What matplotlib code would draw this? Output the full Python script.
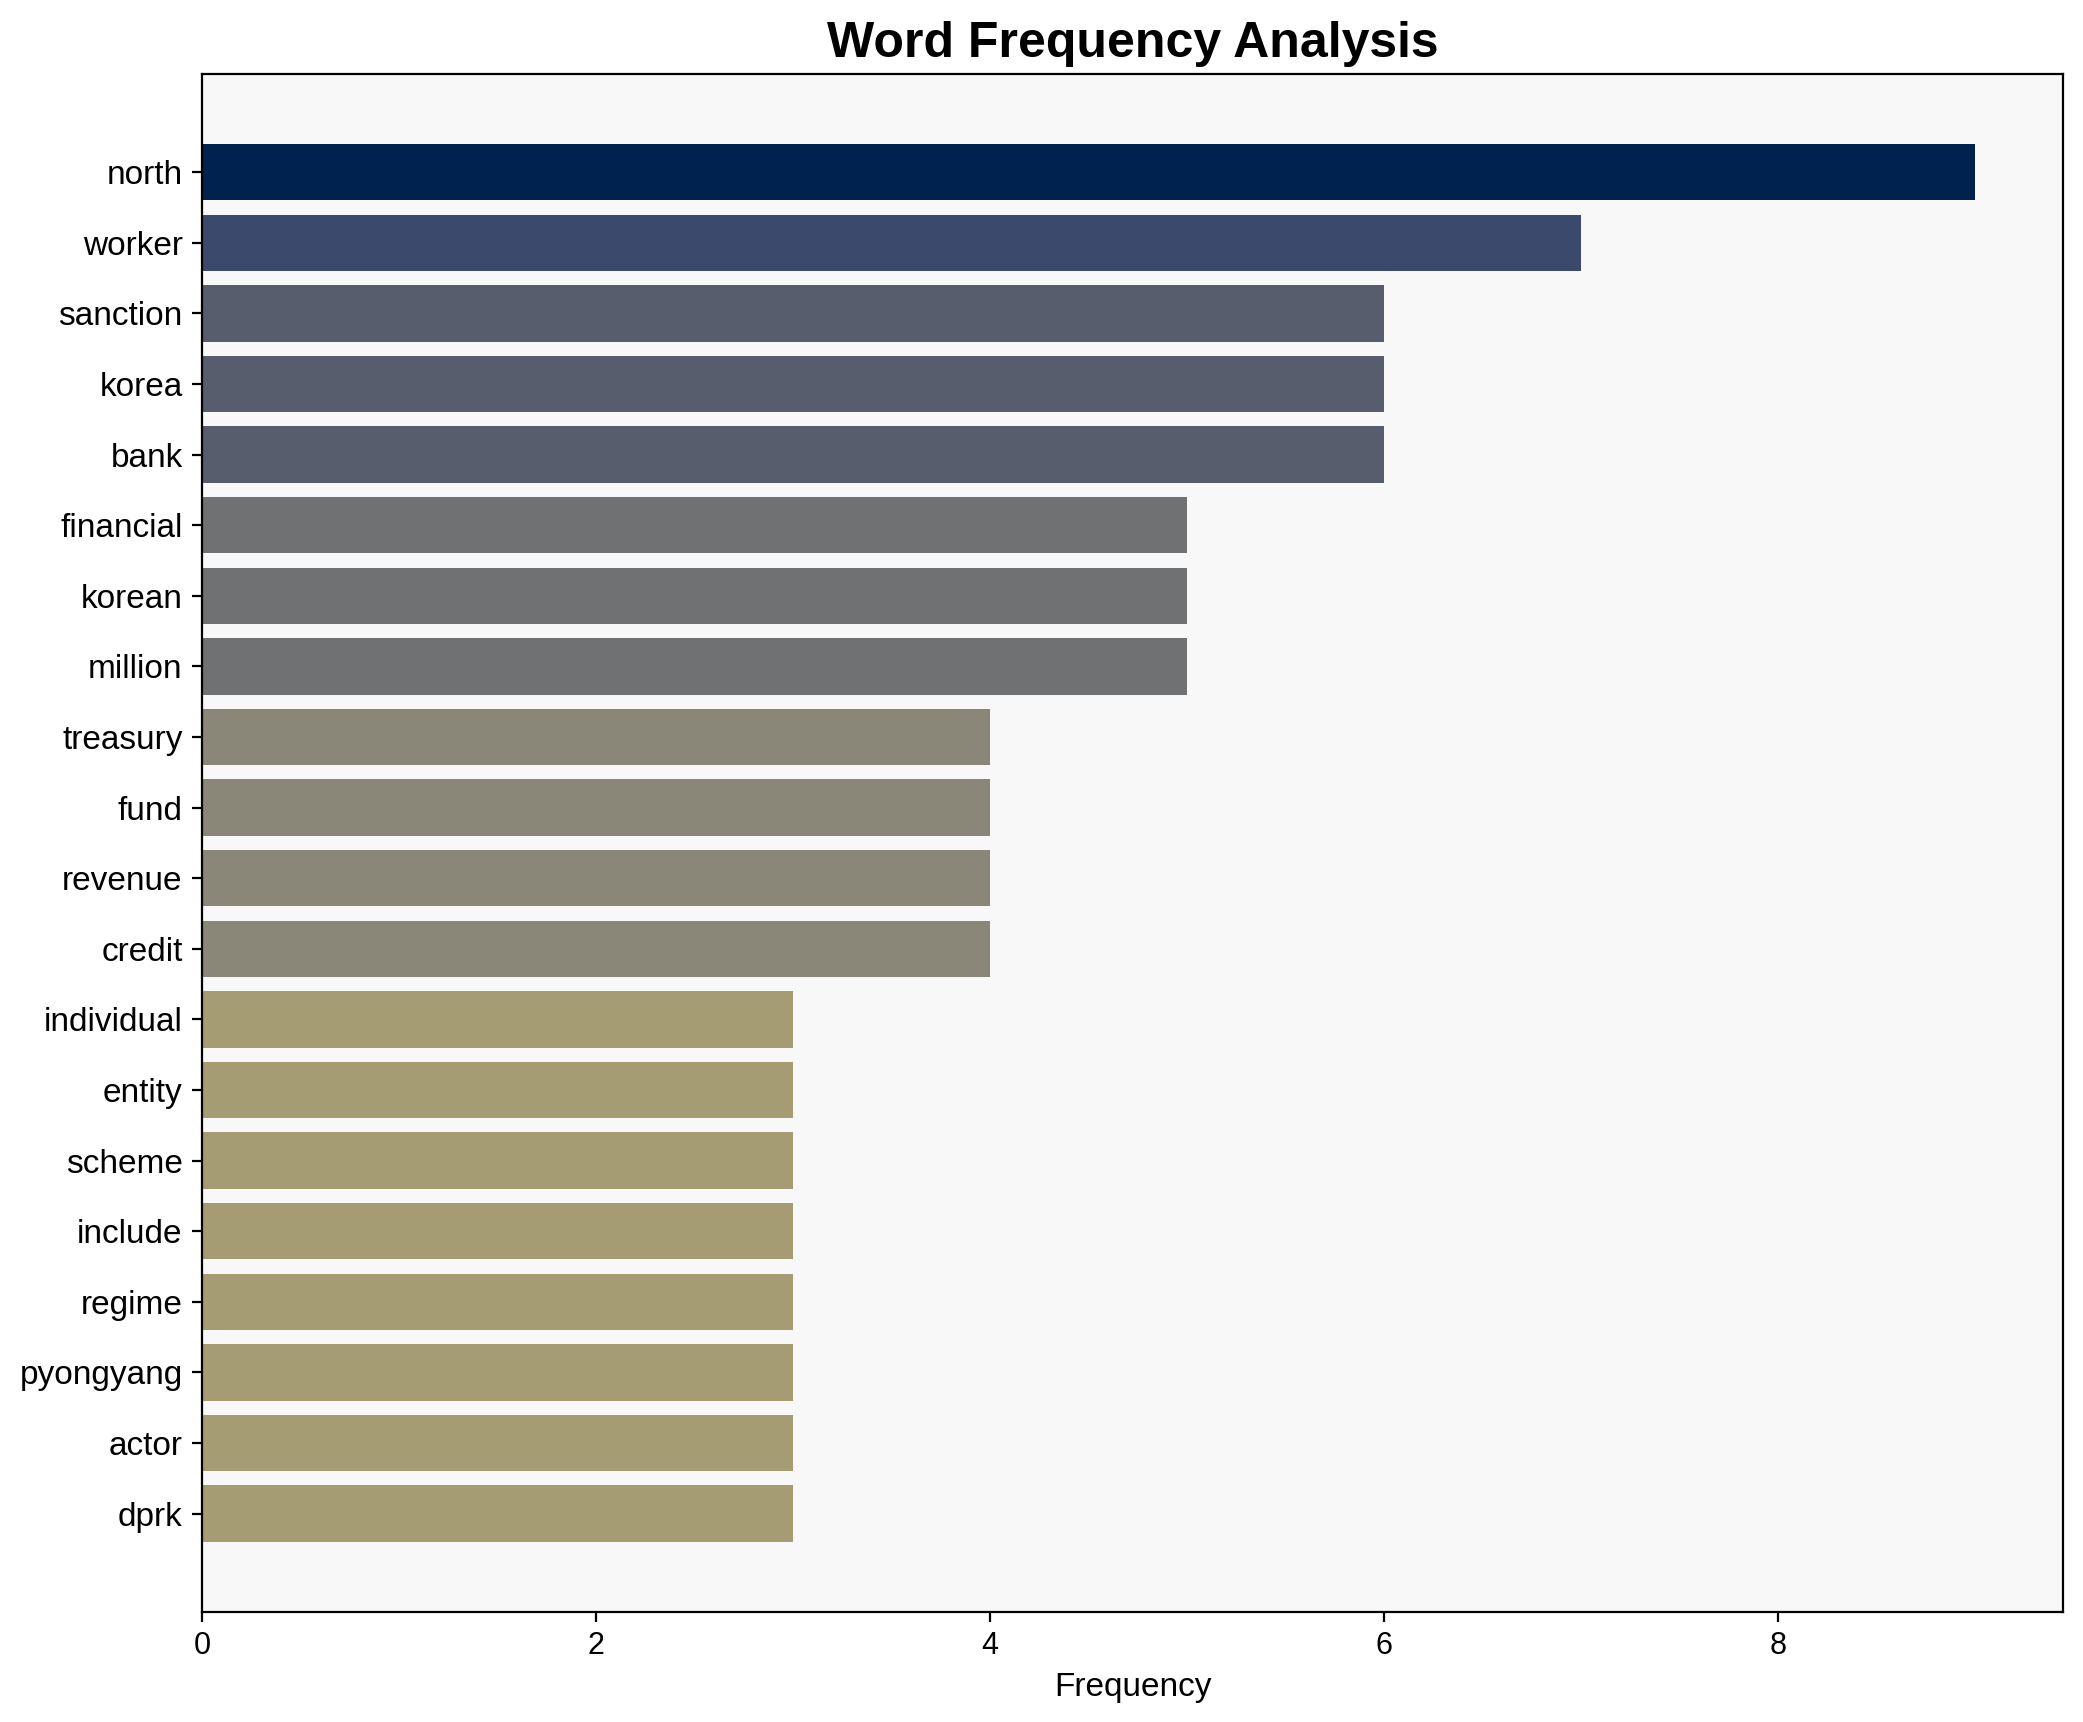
import numpy as np
import matplotlib.pyplot as plt

plt.rcParams['font.family'] = ['Liberation Sans', 'DejaVu Sans']

words = ['north', 'worker', 'sanction', 'korea', 'bank', 'financial', 'korean',
         'million', 'treasury', 'fund', 'revenue', 'credit', 'individual',
         'entity', 'scheme', 'include', 'regime', 'pyongyang', 'actor', 'dprk']
counts = [9, 7, 6, 6, 6, 5, 5, 5, 4, 4, 4, 4, 3, 3, 3, 3, 3, 3, 3, 3]

fig, ax = plt.subplots(figsize=(10.415, 8.61), dpi=200)
ax.set_facecolor('#f8f8f8')

colors = [plt.cm.cividis(1 - c / max(counts)) for c in counts]
ypos = np.arange(len(words))
ax.barh(ypos, counts, color=colors, height=0.8)
ax.set_yticks(ypos)
ax.set_yticklabels(words, fontsize=12)
ax.invert_yaxis()
ax.tick_params(axis='x', labelsize=11)
ax.set_xlabel('Frequency', fontsize=12)
ax.set_title('Word Frequency Analysis', fontsize=18, fontweight='bold')

plt.subplots_adjust(left=0.097, right=0.9905, top=0.957, bottom=0.064)
plt.savefig('out.png', dpi=200)
